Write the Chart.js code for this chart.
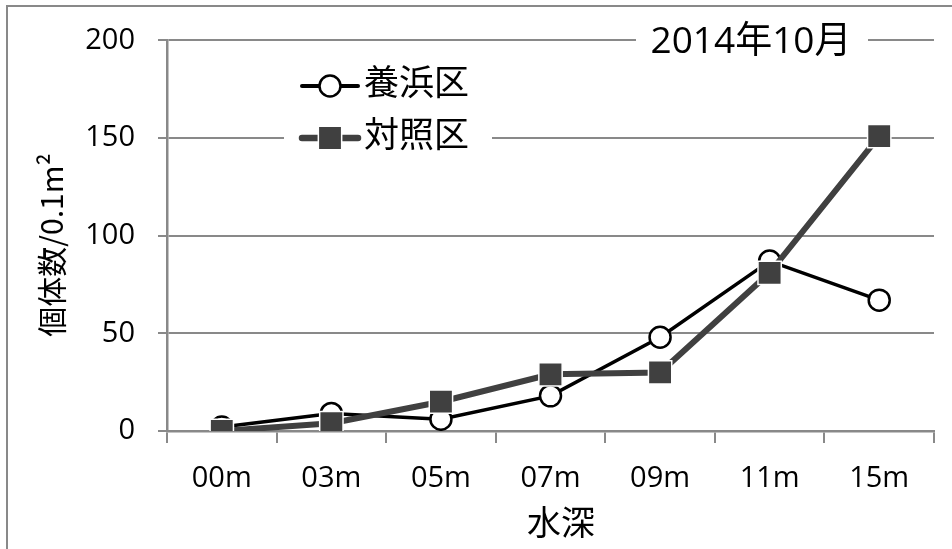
<!DOCTYPE html>
<html>
<head>
<meta charset="utf-8">
<script src="https://cdn.jsdelivr.net/npm/chart.js@4/dist/chart.umd.min.js"></script>
<style>
  html, body { margin: 0; padding: 0; background: #fff; }
  #wrap { width: 952px; height: 549px; position: relative; }
</style>
</head>
<body>
<div id="wrap"><canvas id="c" width="952" height="549"></canvas></div>
<script>
// Water depth categories
const depths = ['00m', '03m', '05m', '07m', '09m', '11m', '15m'];
// Individuals per 0.1 m², October 2014
const nourished = [2, 9, 6, 18, 48, 87, 67];   // 養浜区
const control   = [0, 4, 15, 29, 30, 81, 151]; // 対照区
// Count axis ticks
const countTicks = [0, 50, 100, 150, 200];

const GRID = '#898989';
const LATIN = '"Open Sans", "Noto Sans CJK JP", sans-serif';
const CJK = '"Noto Sans CJK JP", "Open Sans", sans-serif';

const decorations = {
  id: 'decorations',
  beforeDraw(chart) {
    const ctx = chart.ctx;
    ctx.save();
    ctx.fillStyle = '#fff';
    ctx.fillRect(0, 0, chart.width, chart.height);
    ctx.fillStyle = GRID;
    ctx.fillRect(6, 5, 2, chart.height - 5);
    ctx.fillRect(6, 5, chart.width - 6, 2);
    ctx.restore();
  },
  beforeDatasetsDraw(chart) {
    const ctx = chart.ctx;
    ctx.save();
    // white panels for the title and the legend, over the grid
    ctx.fillStyle = '#fff';
    ctx.fillRect(636, 18, 232, 46);
    ctx.fillRect(284, 56, 208, 104);

    // title
    ctx.fillStyle = '#000';
    ctx.textAlign = 'center';
    ctx.textBaseline = 'middle';
    ctx.font = '37px ' + LATIN;
    ctx.fillText('2014年10月', 751, 42);

    // legend
    const rows = [86, 138];
    chart.data.datasets.forEach((ds, i) => {
      const y = rows[i];
      ctx.strokeStyle = ds.borderColor;
      ctx.lineWidth = ds.borderWidth + 0.5;
      ctx.lineCap = 'round';
      ctx.beginPath();
      ctx.moveTo(302, y);
      ctx.lineTo(358, y);
      ctx.stroke();
      ctx.fillStyle = ds.pointBackgroundColor;
      ctx.strokeStyle = ds.pointBorderColor;
      ctx.lineWidth = ds.pointBorderWidth;
      Chart.helpers.drawPoint(ctx, {
        pointStyle: ds.pointStyle,
        radius: ds.pointRadius,
        rotation: 0,
        borderWidth: ds.pointBorderWidth
      }, 330, y);
      ctx.fillStyle = '#000';
      ctx.textAlign = 'left';
      ctx.font = '35px ' + CJK;
      ctx.fillText(ds.label, 364, y - 4);
    });
    ctx.restore();
  },
  afterDraw(chart) {
    const ctx = chart.ctx;
    ctx.save();
    ctx.fillStyle = '#000';
    ctx.textAlign = 'center';
    ctx.textBaseline = 'middle';
    // x axis title
    ctx.font = '34px ' + CJK;
    ctx.fillText('水深', 561, 522);
    // y axis title
    ctx.translate(52, 245);
    ctx.rotate(-Math.PI / 2);
    ctx.font = '30px ' + CJK;
    ctx.fillText('個体数/0.1m²', 0, 0);
    ctx.restore();
  }
};

new Chart(document.getElementById('c'), {
  type: 'line',
  data: {
    labels: depths,
    datasets: [
      {
        label: '養浜区',
        data: nourished,
        borderColor: '#000000',
        borderWidth: 3.5,
        pointStyle: 'circle',
        pointRadius: 10.5,
        pointBackgroundColor: '#ffffff',
        pointBorderColor: '#000000',
        pointBorderWidth: 2.5,
        tension: 0,
        order: 1
      },
      {
        label: '対照区',
        data: control,
        borderColor: '#404040',
        borderWidth: 6,
        pointStyle: 'rect',
        pointRadius: 16.5,
        pointBackgroundColor: '#404040',
        pointBorderColor: '#ffffff',
        pointBorderWidth: 1.5,
        tension: 0,
        order: 0
      }
    ]
  },
  options: {
    responsive: false,
    animation: false,
    events: [],
    layout: { padding: { left: 0, right: 13, top: 38, bottom: 0 } },
    plugins: {
      legend: { display: false },
      title: { display: false },
      tooltip: { enabled: false }
    },
    scales: {
      x: {
        offset: true,
        grid: {
          offset: true,
          drawOnChartArea: false,
          drawTicks: true,
          tickLength: 12,
          color: GRID,
          lineWidth: 2
        },
        border: { display: true, color: GRID, width: 2.5 },
        ticks: {
          color: '#000',
          padding: 18,
          font: { family: LATIN, size: 29 },
          maxRotation: 0,
          autoSkip: false
        },
        afterFit(scale) { scale.height = 118; }
      },
      y: {
        min: countTicks[0],
        max: countTicks[countTicks.length - 1],
        grid: {
          color: GRID,
          lineWidth: 2,
          tickLength: 9,
          drawTicks: true
        },
        border: { display: true, color: GRID, width: 2.5 },
        ticks: {
          stepSize: countTicks[1] - countTicks[0],
          color: '#000',
          padding: 23,
          font: { family: LATIN, size: 29 }
        },
        afterFit(scale) { scale.width = 167; }
      }
    }
  },
  plugins: [decorations]
});
</script>
</body>
</html>
